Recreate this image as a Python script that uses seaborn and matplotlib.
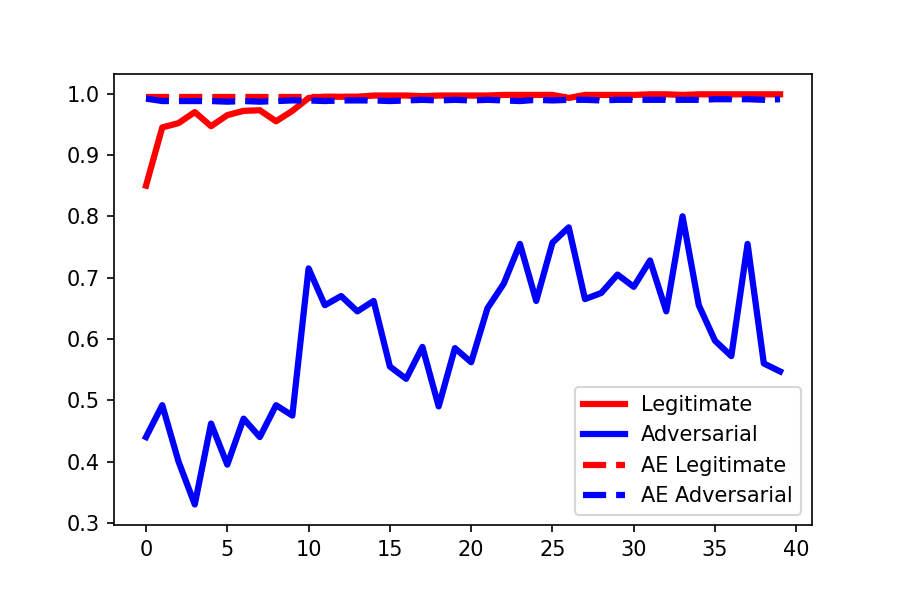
import numpy as np
import pandas as pd
import matplotlib
matplotlib.use("Agg")
import matplotlib.pyplot as plt
import seaborn as sns

epochs = list(range(40))
legitimate = [0.850, 0.945, 0.952, 0.970, 0.947, 0.965, 0.972, 0.973, 0.955, 0.972,
              0.993, 0.995, 0.995, 0.995, 0.997, 0.997, 0.997, 0.996, 0.997, 0.997,
              0.997, 0.997, 0.998, 0.998, 0.998, 0.998, 0.993, 0.998, 0.998, 0.998,
              0.998, 0.999, 0.999, 0.998, 0.999, 0.999, 0.999, 0.999, 0.999, 0.999]
adversarial = [0.440, 0.492, 0.400, 0.330, 0.462, 0.395, 0.470, 0.440, 0.492, 0.475,
               0.715, 0.655, 0.670, 0.645, 0.662, 0.555, 0.535, 0.587, 0.490, 0.585,
               0.562, 0.650, 0.690, 0.755, 0.662, 0.757, 0.782, 0.665, 0.675, 0.705,
               0.685, 0.728, 0.645, 0.800, 0.655, 0.597, 0.572, 0.755, 0.560, 0.547]
ae_legitimate = [0.995] * 40
ae_adversarial = [0.992, 0.988, 0.988, 0.988, 0.988, 0.987, 0.988, 0.987, 0.988, 0.989,
                  0.989, 0.988, 0.989, 0.989, 0.989, 0.988, 0.989, 0.990, 0.989, 0.990,
                  0.989, 0.990, 0.989, 0.988, 0.990, 0.989, 0.990, 0.990, 0.989, 0.990,
                  0.990, 0.990, 0.990, 0.990, 0.990, 0.991, 0.991, 0.991, 0.990, 0.991]

df = pd.DataFrame({"epoch": epochs, "Legitimate": legitimate, "Adversarial": adversarial,
                   "AE Legitimate": ae_legitimate, "AE Adversarial": ae_adversarial})

fig, ax = plt.subplots(figsize=(6, 4), dpi=150)
ax.set_position([0.127, 0.125, 0.775, 0.752])
sns.lineplot(data=df, x="epoch", y="Legitimate", color="red", lw=3, label="Legitimate", ax=ax)
sns.lineplot(data=df, x="epoch", y="Adversarial", color="blue", lw=3, label="Adversarial", ax=ax)
sns.lineplot(data=df, x="epoch", y="AE Legitimate", color="red", lw=3, ls="--", label="AE Legitimate", ax=ax)
sns.lineplot(data=df, x="epoch", y="AE Adversarial", color="blue", lw=3, ls="--", label="AE Adversarial", ax=ax)
ax.set_xlabel("")
ax.set_ylabel("")
ax.set_yticks([0.3, 0.4, 0.5, 0.6, 0.7, 0.8, 0.9, 1.0])
ax.legend(loc="lower right")
plt.savefig("out.png", dpi=150)
